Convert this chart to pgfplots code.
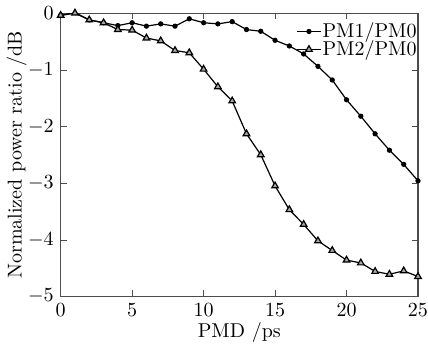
\documentclass[border=0pt]{standalone}
\usepackage{pgfplots}
\pgfplotsset{compat=1.18}
\begin{document}
\begin{tikzpicture}
\begin{axis}[
  scale only axis,
  width=178.5pt, height=141.5pt,
  xmin=0, xmax=25, ymin=-5, ymax=0,
  xtick={0,5,10,15,20,25},
  ytick={-5,-4,-3,-2,-1,0},
  tick align=inside,
  major tick length=3pt,
  axis line style={black!70, line width=0.6pt},
  tick style={black!70},
  xticklabel style={inner xsep=0pt},
  xlabel={PMD /ps},
  ylabel={Normalized power ratio /dB},
  xlabel style={yshift=4pt},
  ylabel style={yshift=-6.2pt},
  legend style={draw=none, fill=none, at={(1,0.972)}, anchor=north east, inner sep=0pt, row sep=-1pt, font=\normalsize, nodes={inner sep=0.5pt}},
  legend cell align=left,
  legend image code/.code={
    \draw[mark repeat=2,mark phase=2,#1] plot coordinates {(0pt,0pt) (6pt,0pt) (12pt,0pt)};
  },
]
\addplot[black, line width=0.6pt, mark=*, mark size=1pt] coordinates {
(0,-0.04) (1,0.01) (2,-0.12) (3,-0.17) (4,-0.22) (5,-0.17) (6,-0.23) (7,-0.19) (8,-0.23) (9,-0.10)
(10,-0.17) (11,-0.19) (12,-0.15) (13,-0.29) (14,-0.32) (15,-0.48) (16,-0.58) (17,-0.72) (18,-0.94)
(19,-1.18) (20,-1.53) (21,-1.82) (22,-2.13) (23,-2.42) (24,-2.67) (25,-2.96)
};
\addlegendentry{PM1/PM0}
\addplot[black, line width=0.6pt, mark=triangle*, mark size=1.9pt, mark options={fill=black!35}] coordinates {
(0,-0.04) (1,0.0) (2,-0.12) (3,-0.17) (4,-0.29) (5,-0.30) (6,-0.44) (7,-0.49) (8,-0.66) (9,-0.70)
(10,-0.99) (11,-1.30) (12,-1.55) (13,-2.13) (14,-2.50) (15,-3.05) (16,-3.47) (17,-3.73) (18,-4.02)
(19,-4.19) (20,-4.36) (21,-4.41) (22,-4.56) (23,-4.61) (24,-4.55) (25,-4.65)
};
\addlegendentry{PM2/PM0}
\end{axis}
\end{tikzpicture}
\end{document}
